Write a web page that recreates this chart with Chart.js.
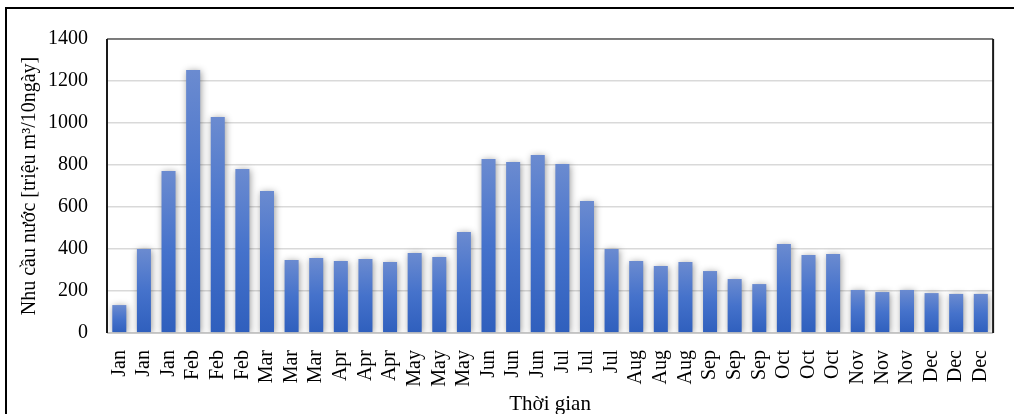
<!DOCTYPE html>
<html>
<head>
<meta charset="utf-8">
<script src="https://cdn.jsdelivr.net/npm/chart.js@4/dist/chart.umd.min.js"></script>
<style>
  html, body { margin: 0; padding: 0; background: #fff; overflow: hidden; }
  #wrap { position: relative; width: 1014px; height: 414px; overflow: hidden; }
  #frame { position: absolute; left: 5px; top: 7px; width: 1030px; height: 440px;
           border: 2.5px solid #000; box-sizing: border-box; pointer-events: none; }
  canvas { position: absolute; left: 0; top: 0; }
</style>
</head>
<body>
<div id="wrap">
  <canvas id="c" width="1014" height="430"></canvas>
  <div id="frame"></div>
</div>
<script>
// Ten-day periods of the year, three per month
const periods = [
  'Jan','Jan','Jan','Feb','Feb','Feb','Mar','Mar','Mar','Apr','Apr','Apr',
  'May','May','May','Jun','Jun','Jun','Jul','Jul','Jul','Aug','Aug','Aug',
  'Sep','Sep','Sep','Oct','Oct','Oct','Nov','Nov','Nov','Dec','Dec','Dec'
];

// Water demand per ten-day period (million m3)
const demand = [
  133, 400, 771, 1252, 1028, 781, 676, 348, 357, 343, 352, 338,
  381, 362, 481, 829, 814, 848, 805, 629, 400, 343, 319, 338,
  295, 257, 233, 424, 371, 376, 205, 195, 205, 190, 186, 186
];

const yTicks = [0, 200, 400, 600, 800, 1000, 1200, 1400];

const serif = "'Liberation Serif', 'Times New Roman', serif";

// Soft drop shadow behind the bars
const barShadow = {
  id: 'barShadow',
  beforeDatasetsDraw(chart) {
    const ctx = chart.ctx;
    ctx.save();
    ctx.shadowColor = 'rgba(0,0,0,0.4)';
    ctx.shadowBlur = 7;
    ctx.shadowOffsetX = 1;
    ctx.shadowOffsetY = 1;
  },
  afterDatasetsDraw(chart) {
    chart.ctx.restore();
  }
};

// Plot area frame
const plotFrame = {
  id: 'plotFrame',
  afterDraw(chart) {
    const { ctx, chartArea: a } = chart;
    ctx.save();
    ctx.lineWidth = 1.5;
    ctx.strokeStyle = '#5a5a5a';
    ctx.beginPath();
    ctx.moveTo(a.left, a.top); ctx.lineTo(a.right, a.top);
    ctx.stroke();
    ctx.strokeStyle = '#bfbfbf';
    ctx.beginPath();
    ctx.moveTo(a.left, a.bottom); ctx.lineTo(a.right, a.bottom);
    ctx.stroke();
    ctx.lineWidth = 2;
    ctx.strokeStyle = '#1a1a1a';
    ctx.beginPath();
    ctx.moveTo(a.left, a.top); ctx.lineTo(a.left, a.bottom);
    ctx.moveTo(a.right, a.top); ctx.lineTo(a.right, a.bottom);
    ctx.stroke();
    ctx.restore();
  }
};

function barFill(context) {
  const chart = context.chart;
  const area = chart.chartArea;
  if (!area) return '#4472C4';
  const v = context.raw;
  const yScale = chart.scales.y;
  const top = yScale.getPixelForValue(v);
  const bottom = yScale.getPixelForValue(0);
  const g = chart.ctx.createLinearGradient(0, top, 0, bottom);
  g.addColorStop(0, '#6b8bd0');
  g.addColorStop(0.5, '#4572cb');
  g.addColorStop(1, '#2f5fbd');
  return g;
}

new Chart(document.getElementById('c'), {
  type: 'bar',
  data: {
    labels: periods,
    datasets: [{
      data: demand,
      backgroundColor: barFill,
      borderWidth: 0,
      categoryPercentage: 1.0,
      barPercentage: 0.57
    }]
  },
  options: {
    responsive: false,
    animation: false,
    devicePixelRatio: 1,
    layout: { padding: { left: 0, top: 39, right: 14, bottom: 9 } },
    plugins: { legend: { display: false }, tooltip: { enabled: false } },
    scales: {
      x: {
        grid: { display: false },
        border: { display: false },
        ticks: {
          minRotation: 90, maxRotation: 90, autoSkip: false,
          padding: 9, color: '#000',
          font: { family: serif, size: 20 }
        },
        title: {
          display: true, text: 'Thời gian', color: '#000',
          font: { family: serif, size: 21 },
          padding: { top: 0, bottom: 4 }
        },
        afterFit(scale) { scale.height = 88; }
      },
      y: {
        min: 0, max: 1400,
        afterBuildTicks(scale) { scale.ticks = yTicks.map(v => ({ value: v })); },
        grid: { color: '#d9d9d9', lineWidth: 1.5, drawTicks: false },
        border: { display: false },
        ticks: {
          padding: 19, color: '#000',
          font: { family: serif, size: 20 },
          callback: (v) => String(v)
        },
        title: {
          display: true, text: 'Nhu cầu nước [triệu m³/10ngày]', color: '#000',
          font: { family: serif, size: 20 },
          padding: { top: 18, bottom: 0 }
        },
        afterFit(scale) { scale.width = 107; }
      }
    }
  },
  plugins: [barShadow, plotFrame]
});
</script>
</body>
</html>
